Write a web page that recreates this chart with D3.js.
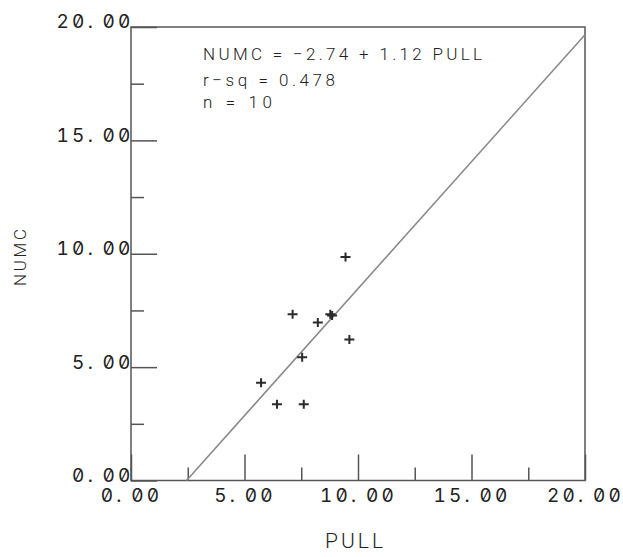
<!DOCTYPE html>
<html>
<head>
<meta charset="utf-8">
<script src="https://cdn.jsdelivr.net/npm/d3@7"></script>
<style>
  html, body { margin: 0; padding: 0; background: #fff; }
  svg { display: block; }
  .tick-label { font-family: Inter, "DejaVu Sans Mono", monospace; font-size: 19px; letter-spacing: 3.2px;
                font-feature-settings: "zero" 1, "tnum" 1; fill: #222; }
  .title { font-family: Roboto, "Liberation Sans", sans-serif; font-weight: 300; fill: #222; }
</style>
</head>
<body>
<svg id="chart" width="623" height="557"></svg>
<script>
// Observations: PULL (x) against NUMC (y)
const pull = [9.45, 7.12, 8.23, 8.78, 8.86, 9.62, 7.54, 5.73, 6.43, 7.61];
const numc = [9.86, 7.33, 6.97, 7.33, 7.28, 6.22, 5.43, 4.31, 3.36, 3.36];

// Least-squares fit reported on the chart
const fitIntercept = -2.74;
const fitSlope = 1.12;
const rSquared = 0.478;

// Axis ticks
const majorTicks = [0, 5, 10, 15, 20];
const minorTicks = [2.5, 7.5, 12.5, 17.5];
const tickLabels = ["0.00", "5.00", "10.00", "15.00", "20.00"];

const xTitle = "PULL";
const yTitle = "NUMC";

const svg = d3.select("#chart");

const x = d3.scaleLinear().domain([0, 20]).range([131, 585]);
const y = d3.scaleLinear().domain([0, 20]).range([480.5, 27]);

const frameColor = "#555";

// Plot frame
svg.append("rect")
  .attr("x", x(0)).attr("y", y(20))
  .attr("width", x(20) - x(0)).attr("height", y(0) - y(20))
  .attr("fill", "none").attr("stroke", frameColor).attr("stroke-width", 1.5);

const labelFor = d => tickLabels[majorTicks.indexOf(d)];

function styleAxis(g) {
  g.select(".domain").remove();
  g.selectAll(".tick line").attr("stroke", frameColor).attr("stroke-width", 1.5);
}

// Fixed-pitch tick labels: the decimal point takes a full character cell
function pitchLabels(g) {
  g.selectAll(".tick text").each(function (d) {
    const t = d3.select(this)
      .attr("class", "tick-label")
      .attr("font-family", null).attr("font-size", null).attr("fill", null)
      .text(null);
    const chars = labelFor(d).split("");
    t.selectAll("tspan")
      .data(chars)
      .join("tspan")
      .attr("dx", (c, i) => (i > 0 && chars[i - 1] === "." ? 6.5 : null))
      .text(c => c);
  });
}

// X axis: long ticks at labelled values, short ticks between
svg.append("g")
  .attr("transform", `translate(0,${y(0)})`)
  .call(d3.axisBottom(x).tickValues(majorTicks).tickSize(-26).tickPadding(8).tickFormat(labelFor))
  .call(styleAxis)
  .call(pitchLabels);

svg.append("g")
  .attr("transform", `translate(0,${y(0)})`)
  .call(d3.axisBottom(x).tickValues(minorTicks).tickSize(-13).tickFormat(""))
  .call(styleAxis);

// Y axis: labels sit just above each long tick, ending at the frame
svg.append("g")
  .attr("transform", `translate(${x(0)},0)`)
  .call(d3.axisLeft(y).tickValues(majorTicks).tickSize(-26).tickPadding(-2.5).tickFormat(labelFor))
  .call(styleAxis)
  .call(pitchLabels)
  .call(g => g.selectAll(".tick text").attr("dy", "0.05em"));

svg.append("g")
  .attr("transform", `translate(${x(0)},0)`)
  .call(d3.axisLeft(y).tickValues(minorTicks).tickSize(-13).tickFormat(""))
  .call(styleAxis);

// Regression line, from where it meets y = 0 to the right edge
const xStart = -fitIntercept / fitSlope;
const fitLine = d3.line().x(d => x(d)).y(d => y(fitIntercept + fitSlope * d));
svg.append("path")
  .attr("d", fitLine([xStart, 20]))
  .attr("fill", "none").attr("stroke", "#8a8a8a").attr("stroke-width", 1.6);

// Data points as plus marks
const arm = 5;
svg.append("g")
  .selectAll("path")
  .data(pull.map((p, i) => [p, numc[i]]))
  .join("path")
  .attr("d", d => {
    const cx = x(d[0]), cy = y(d[1]);
    return `M${cx - arm},${cy}H${cx + arm}M${cx},${cy - arm + 0.5}V${cy + arm - 0.5}`;
  })
  .attr("stroke", "#2a2a2a").attr("stroke-width", 2).attr("fill", "none");

// Fit summary
const fmt2 = d3.format(".2f");
const signed = v => (v < 0 ? "\u2212" : "") + fmt2(Math.abs(v));
const stats = [
  { text: `NUMC = ${signed(fitIntercept)} + ${fmt2(fitSlope)} PULL`, base: 60, len: 279 },
  { text: `r\u2212sq = ${d3.format(".3f")(rSquared)}`, base: 86, len: 132 },
  { text: `n = ${pull.length}`, base: 108, len: 69 }
];
svg.append("g")
  .selectAll("text")
  .data(stats)
  .join("text")
  .attr("class", "title")
  .attr("x", 203).attr("y", d => d.base)
  .attr("font-size", 17)
  .attr("textLength", d => d.len).attr("lengthAdjust", "spacing")
  .text(d => d.text);

// Axis titles
svg.append("text")
  .attr("class", "title")
  .attr("x", 325).attr("y", 548)
  .attr("font-size", 21)
  .attr("textLength", 58).attr("lengthAdjust", "spacing")
  .text(xTitle);

svg.append("text")
  .attr("class", "title")
  .attr("transform", "translate(26,286) rotate(-90)")
  .attr("font-size", 17)
  .attr("textLength", 57).attr("lengthAdjust", "spacing")
  .text(yTitle);
</script>
</body>
</html>
